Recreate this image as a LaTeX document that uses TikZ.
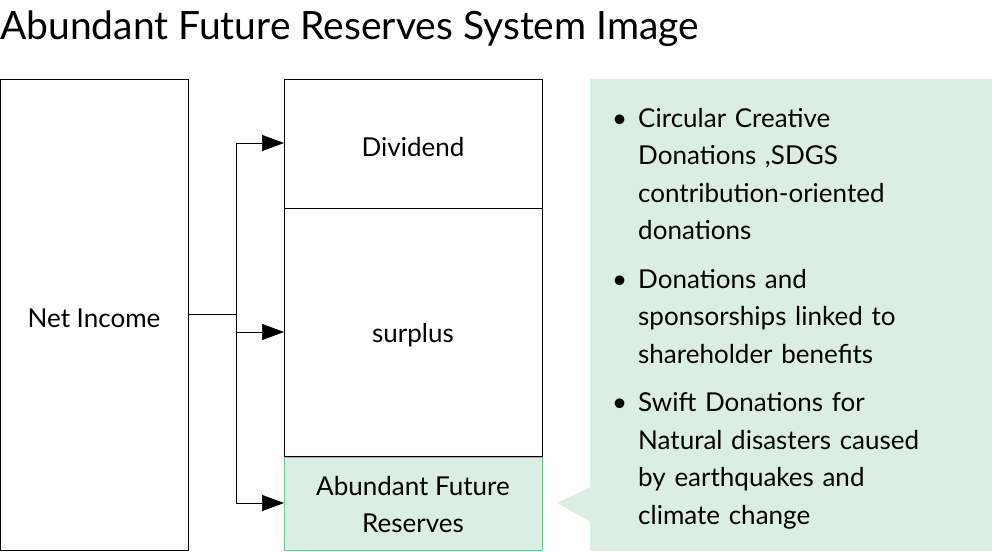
\documentclass[tikz,border=0pt]{standalone}
\usepackage{fontspec}
\setmainfont{Lato}
\usetikzlibrary{arrows.meta}
\definecolor{gfill}{HTML}{DCEDE3}
\definecolor{gline}{HTML}{6CC495}
\begin{document}
\begin{tikzpicture}[x=1pt,y=-1pt,
  box/.style={draw=black,line width=0.8pt,inner sep=0pt},
  lbl/.style={font=\fontsize{26}{37}\selectfont,align=center},
  conn/.style={line width=0.7pt,-{Triangle[length=22pt,width=16pt]}}]
\useasboundingbox (0,0) rectangle (992,551);
\node[anchor=base west,inner sep=0pt,font=\fontsize{39}{42}\selectfont] (title) at (0,40) {Abundant Future Reserves System Image};
\draw[box] (0,79) rectangle (188,550);
\node[lbl] (net) at (94,318) {Net Income};
\draw[box] (284,79) rectangle (542,208);
\node[lbl] (div) at (413,147) {Dividend};
\draw[box] (284,208) rectangle (542,456);
\node[lbl] (sur) at (413,335) {surplus};
\draw[fill=gfill,draw=gline,line width=0.8pt] (284,457) rectangle (542,550);
\node[lbl] (afr) at (413,505) {Abundant Future\\Reserves};
\coordinate (nr) at (188,314);
\coordinate (j) at (236,314);
\coordinate (d) at (284,143);
\coordinate (s) at (284,332);
\coordinate (a) at (284,503);
\draw[line width=0.7pt] (nr) -- (j);
\draw[conn] (j) |- (d);
\draw[conn] (j) |- (s);
\draw[conn] (j) |- (a);
\fill[gfill] (590,79) rectangle (992,551);
\fill[gfill] (557,503) -- (591,487) -- (591,522) -- cycle;
\node[anchor=north west,inner sep=0pt,text width=370pt,font=\fontsize{26}{37.5}\selectfont] (bul) at (612,108) {%
\setlength{\parskip}{11pt}\raggedright%
\hangindent=26pt\hangafter=1\makebox[26pt][l]{\textbullet}Circular Creative\newline Donations ,SDGS\newline contribution-oriented\newline donations\par
\hangindent=26pt\hangafter=1\makebox[26pt][l]{\textbullet}Donations and\newline sponsorships linked to\newline shareholder benefits\par
\hangindent=26pt\hangafter=1\makebox[26pt][l]{\textbullet}Swift Donations for\newline Natural disasters caused\newline by earthquakes and\newline climate change\par};
\end{tikzpicture}
\end{document}
